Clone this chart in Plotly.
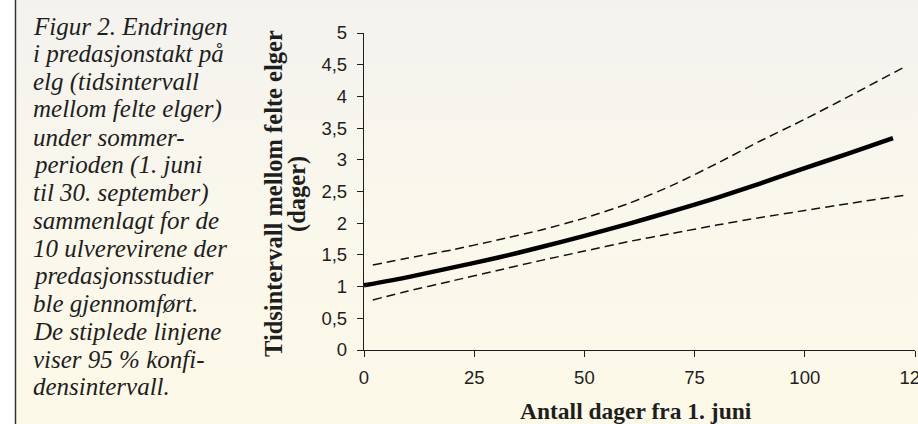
import plotly.graph_objects as go

# ---- data ----
days_mean = [0, 10, 20, 30, 40, 50, 60, 70, 80, 90, 100, 110, 120]
interval_mean = [1.02, 1.15, 1.30, 1.45, 1.62, 1.80, 1.99, 2.19, 2.40, 2.63, 2.87, 3.10, 3.34]

days_ci = [2, 10, 20, 30, 40, 50, 60, 70, 80, 90, 100, 110, 122.5]
ci_upper = [1.34, 1.45, 1.58, 1.73, 1.89, 2.08, 2.31, 2.60, 2.94, 3.30, 3.64, 4.00, 4.46]
ci_lower = [0.79, 0.93, 1.09, 1.25, 1.41, 1.56, 1.71, 1.84, 1.97, 2.09, 2.20, 2.31, 2.44]

x_ticks = [0, 25, 50, 75, 100, 125]
y_ticks = [0, 0.5, 1, 1.5, 2, 2.5, 3, 3.5, 4, 4.5, 5]

x_title = "Antall dager fra 1. juni"
y_title_lines = ["Tidsintervall mellom felte elger", "(dager)"]

caption_lines = [
    "Figur 2. Endringen",
    "i predasjonstakt på",
    "elg (tidsintervall",
    "mellom felte elger)",
    "under sommer-",
    "perioden (1. juni",
    "til 30. september)",
    "sammenlagt for de",
    "10 ulverevirene der",
    "predasjonsstudier",
    "ble gjennomført.",
    "De stiplede linjene",
    "viser 95 % konfi-",
    "densintervall.",
]

W, H = 918, 424
TXT = "#1e1e1e"
SERIF = "Liberation Serif, Times New Roman, serif"


def px(x):
    return x / W


def py(y):
    return 1 - y / H


fig = go.Figure()

# background panel with vertical gradient (on a full-figure helper axis)
fig.add_trace(go.Scatter(
    x=[16.5, W, W, 16.5, 16.5], y=[0, 0, H, H, 0],
    mode="lines", fill="toself", line=dict(width=0),
    fillgradient=dict(type="vertical",
                      colorscale=[[0, "#fdf9e8"], [0.5, "#faf7ec"], [1, "#f3f2ee"]],
                      start=0, stop=H),
    hoverinfo="skip", showlegend=False, xaxis="x", yaxis="y",
))

# confidence interval (dashed)
for yv in (ci_upper, ci_lower):
    fig.add_trace(go.Scatter(
        x=days_ci, y=yv, mode="lines",
        line=dict(color="#111111", width=1.5, dash="9px,5px", shape="spline", smoothing=0.6),
        showlegend=False, hoverinfo="skip", xaxis="x2", yaxis="y2",
    ))

# fitted line
fig.add_trace(go.Scatter(
    x=days_mean, y=interval_mean, mode="lines",
    line=dict(color="#000000", width=4.5, shape="spline", smoothing=0.6),
    showlegend=False, hoverinfo="skip", xaxis="x2", yaxis="y2",
))

tickfont = dict(family="Liberation Sans, Arial, sans-serif", size=18.5, color=TXT)

fig.update_layout(
    width=W, height=H, autosize=False,
    margin=dict(l=0, r=0, t=0, b=0, pad=0, autoexpand=False),
    paper_bgcolor="white",
    plot_bgcolor="rgba(0,0,0,0)",
    separators=", ",
    xaxis=dict(domain=[0, 1], range=[0, W], visible=False, fixedrange=True, automargin=False),
    yaxis=dict(domain=[0, 1], range=[0, H], visible=False, fixedrange=True, automargin=False),
    xaxis2=dict(
        domain=[px(364), px(915)], anchor="y2", range=[0, 125],
        tickmode="array", tickvals=x_ticks, automargin=False,
        showline=True, linecolor=TXT, linewidth=1.4,
        ticks="outside", ticklen=6, tickwidth=1.4, tickcolor=TXT,
        ticklabelstandoff=5, ticklabeloverflow="allow",
        showgrid=False, zeroline=False, tickfont=tickfont,
    ),
    yaxis2=dict(
        domain=[py(350), py(33)], anchor="x2", range=[0, 5],
        tickmode="array", tickvals=y_ticks, automargin=False,
        showline=True, linecolor=TXT, linewidth=1.4,
        ticks="outside", ticklen=6, tickwidth=1.4, tickcolor=TXT,
        ticklabelstandoff=6,
        showgrid=False, zeroline=False, tickfont=tickfont,
    ),
    shapes=[dict(type="line", xref="paper", yref="paper",
                 x0=px(15.5), x1=px(15.5), y0=0, y1=1,
                 line=dict(color="#333333", width=1.5))],
)

fig.add_annotation(
    text="<b>%s</b>" % x_title, xref="paper", yref="paper",
    x=px(636), y=py(411), xanchor="center", yanchor="middle",
    showarrow=False, font=dict(family=SERIF, size=23.5, color=TXT),
)
for xc, line in zip((274, 297), y_title_lines):
    fig.add_annotation(
        text="<b>%s</b>" % line, xref="paper", yref="paper",
        x=px(xc), y=py(194), xanchor="center", yanchor="middle",
        textangle=-90, showarrow=False, font=dict(family=SERIF, size=24.5, color=TXT),
    )

for i, line in enumerate(caption_lines):
    fig.add_annotation(
        text="<i>%s</i>" % line, xref="paper", yref="paper",
        x=px(31), y=py(26 + i * 27.75),
        xanchor="left", yanchor="middle", showarrow=False,
        font=dict(family=SERIF, size=25, color=TXT),
    )

fig.write_html(
    "out.html",
    config={"displayModeBar": False},
    post_script="document.body.style.margin='0';document.body.style.overflow='hidden';",
)
